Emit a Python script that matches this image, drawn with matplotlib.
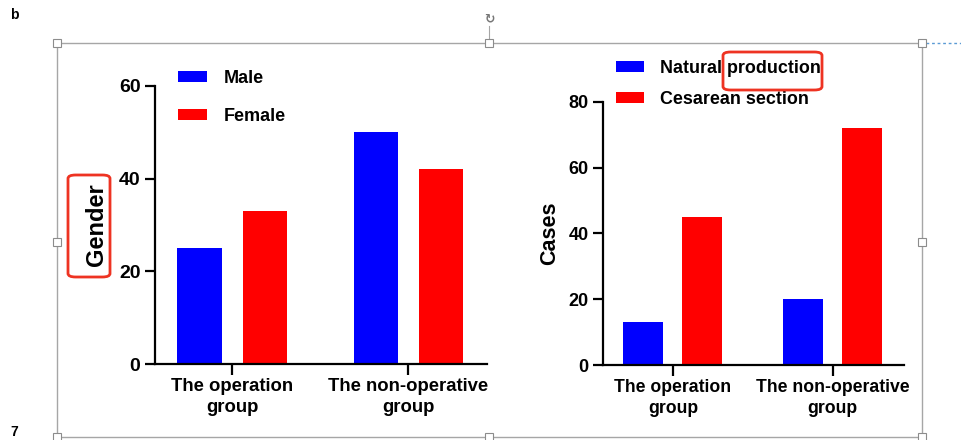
import numpy as np
import matplotlib
matplotlib.use("Agg")
import matplotlib.pyplot as plt
from matplotlib.patches import Rectangle, FancyBboxPatch
from matplotlib.lines import Line2D

# Data.
groups = ["The operation\ngroup", "The non-operative\ngroup"]

gender_labels = ["Male", "Female"]
male = [25, 50]
female = [33, 42]

delivery_labels = ["Natural production", "Cesarean section"]
natural = [13, 20]
cesarean = [45, 72]

BLUE = "#0000ff"
RED = "#ff0000"

plt.rcParams["font.family"] = ["Liberation Sans", "DejaVu Sans"]
plt.rcParams["font.weight"] = "bold"

W, H = 962, 440
fig = plt.figure(figsize=(W / 100, H / 100), dpi=100)


def px_rect(x0, y0, x1, y1):
    # pixel box (top-left origin) -> figure fraction [left, bottom, width, height]
    return [x0 / W, 1 - y1 / H, (x1 - x0) / W, (y1 - y0) / H]


def draw_panel(ax, a, b, labels, ymax, tick_size, xtick_size, label_size, ylabel, label_x):
    x = np.arange(len(groups))
    ax.bar(x - 0.185, a, width=0.25, color=BLUE, label=labels[0])
    ax.bar(x + 0.185, b, width=0.25, color=RED, label=labels[1])
    ax.set_xlim(-0.4375, 1.447)
    ax.set_ylim(0, ymax)
    ax.set_yticks(np.arange(0, ymax + 1, 20))
    ax.set_xticks(x)
    ax.set_xticklabels(groups, fontsize=xtick_size, fontweight="bold", linespacing=1.35)
    for s in ["top", "right"]:
        ax.spines[s].set_visible(False)
    for s in ["left", "bottom"]:
        ax.spines[s].set_linewidth(1.6)
    ax.tick_params(axis="y", length=7.5, width=1.6, labelsize=tick_size, pad=3)
    ax.tick_params(axis="x", length=8, width=1.6, pad=2)
    ax.set_ylabel(ylabel, fontsize=label_size, fontweight="bold")
    ax.yaxis.set_label_coords(label_x, 0.5)


ax1 = fig.add_axes(px_rect(155, 86, 487, 364))
draw_panel(ax1, male, female, gender_labels, 60, 14, 13.3, 17, "Gender", -0.142)
ax1.legend(loc="upper left", bbox_to_anchor=(178 / W, 1 - 70 / H),
           bbox_transform=fig.transFigure, frameon=False, fontsize=13,
           handlelength=1.6, handleheight=0.55, handletextpad=0.95,
           labelspacing=1.17, borderpad=0, borderaxespad=0)

ax2 = fig.add_axes(px_rect(603, 102, 904, 365))
draw_panel(ax2, natural, cesarean, delivery_labels, 80, 13, 12.7, 15.5, "Cases", -0.143)
ax2.legend(loc="upper left", bbox_to_anchor=(616 / W, 1 - 60 / H),
           bbox_transform=fig.transFigure, frameon=False, fontsize=12.9,
           handlelength=1.57, handleheight=0.55, handletextpad=0.9,
           labelspacing=0.78, borderpad=0, borderaxespad=0)

# Word selection frame around the picture, with its handles.
gray = "#a6a6a6"
fig.patches.append(Rectangle((57 / W, 1 - 437 / H), 865 / W, 394 / H,
                             transform=fig.transFigure, fill=False,
                             edgecolor=gray, linewidth=1))
for hx in [57, 489, 922]:
    for hy in [43, 242, 437]:
        if hx == 489 and hy == 242:
            continue
        fig.patches.append(Rectangle(((hx - 4) / W, 1 - (hy + 4) / H), 8 / W, 8 / H,
                                     transform=fig.transFigure, facecolor="white",
                                     edgecolor="#8c8c8c", linewidth=0.8, zorder=5))
fig.lines.append(Line2D([489 / W, 489 / W], [1 - 43 / H, 1 - 26 / H],
                        transform=fig.transFigure, color=gray, linewidth=0.8))
fig.text(489 / W, 1 - 19 / H, "\u21bb", ha="center", va="center", fontsize=9,
         color="#777777", family="DejaVu Sans")
fig.lines.append(Line2D([926 / W, 962 / W], [1 - 43 / H, 1 - 43 / H],
                        transform=fig.transFigure, color="#5b9bd5",
                        linewidth=1, linestyle=(0, (2, 2))))
fig.text(10 / W, 1 - 15 / H, "b", ha="left", va="center", fontsize=10)
fig.text(10 / W, 1 - 432 / H, "7", ha="left", va="center", fontsize=10)

# Red highlight boxes.
for (x0, y0, x1, y1) in [(68, 175, 110, 277), (723, 52, 822, 90)]:
    fig.patches.append(FancyBboxPatch((x0 / W, 1 - y1 / H), (x1 - x0) / W, (y1 - y0) / H,
                                      boxstyle="round,pad=0,rounding_size=0.008",
                                      transform=fig.transFigure, fill=False,
                                      edgecolor="#ee3322", linewidth=2, zorder=6))

fig.savefig("out.png", dpi=100)
